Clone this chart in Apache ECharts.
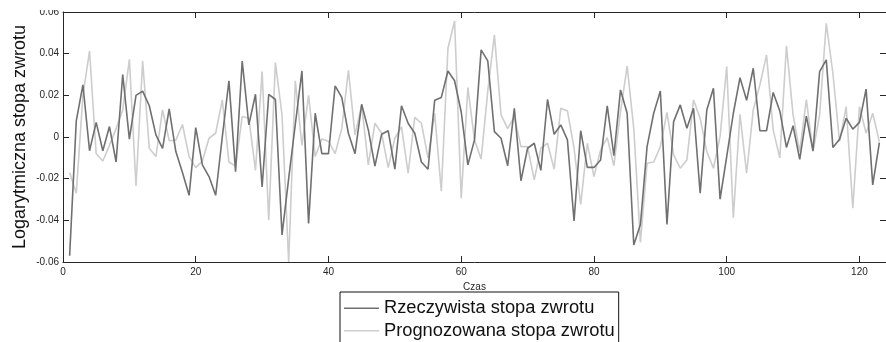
<!DOCTYPE html>
<html>
<head>
<meta charset="utf-8">
<script src="https://cdn.jsdelivr.net/npm/echarts@6/dist/echarts.min.js"></script>
<style>
html,body{margin:0;padding:0;background:#fff;}
#chart{width:886px;height:342px;}
</style>
</head>
<body>
<div id="chart"></div>
<script>
var timeIndex = [];
for (var t = 1; t <= 123; t++) timeIndex.push(t);

var actualReturns = [
  -0.057, 0.0077, 0.025, -0.0066, 0.007, -0.0066, 0.005, -0.012, 0.030, -0.001,
  0.020, 0.022, 0.015, 0.001, -0.0055, 0.0135, -0.007, -0.017, -0.028, 0.0045,
  -0.0134, -0.019, -0.028, 0.0, 0.027, -0.0166, 0.0365, 0.0058, 0.0205, -0.024,
  0.0205, 0.018, -0.047, -0.02, 0.006, 0.0317, -0.0415, 0.0114, -0.008, -0.008,
  0.0245, 0.019, 0.0018, -0.008, 0.0157, 0.0034, -0.014, 0.0013, 0.003, -0.0154,
  0.015, 0.0066, 0.0018, -0.012, -0.0155, 0.0176, 0.019, 0.0317, 0.027, 0.012,
  -0.0134, -0.0014, 0.0418, 0.0365, 0.0026, -0.0006, -0.0138, 0.0138, -0.021, -0.0054,
  -0.003, -0.016, 0.018, 0.0013, 0.0058, -0.0014, -0.0403, 0.003, -0.0146, -0.0146,
  -0.011, 0.015, -0.009, 0.0226, 0.0114, -0.0518, -0.042, -0.0046, 0.0114, 0.0221,
  -0.042, 0.0074, 0.0154, 0.0042, 0.0138, -0.027, 0.013, 0.0234, -0.0298, -0.0094,
  0.0114, 0.0285, 0.0176, 0.033, 0.003, 0.003, 0.0214, 0.0125, -0.005, 0.0054,
  -0.0107, 0.010, -0.0066, 0.0314, 0.037, -0.005, -0.0011, 0.009, 0.0038, 0.007,
  0.023, -0.023, -0.0027
];

var forecastReturns = [
  -0.017, -0.027, 0.02, 0.0413, -0.008, -0.0115, -0.004, 0.004, 0.013, 0.0373,
  -0.0235, 0.0365, -0.0054, -0.0094, 0.013, -0.0018, -0.0015, 0.006, -0.0094, -0.0147,
  -0.0115, -0.0006, 0.0018, 0.0178, -0.012, -0.014, 0.0098, 0.009, -0.016, 0.0314,
  -0.040, 0.0357, 0.0106, -0.060, 0.027, -0.004, 0.020, -0.0094, -0.001, -0.002,
  -0.008, 0.004, 0.032, 0.001, 0.0154, -0.0134, 0.0066, 0.0018, -0.0147, -0.0006,
  0.005, -0.0174, 0.0094, 0.0066, -0.010, 0.0114, -0.026, 0.0426, 0.0557, -0.0294,
  0.0237, -0.0014, -0.0106, 0.022, 0.049, 0.0106, 0.004, 0.0098, -0.0046, -0.0046,
  -0.0206, -0.0054, -0.003, -0.0154, 0.0138, 0.0125, -0.0054, -0.0323, -0.003, -0.019,
  -0.0062, -0.0003, -0.0138, 0.0122, 0.034, 0.004, -0.0506, -0.0126, -0.012, -0.0046,
  0.0118, -0.0086, -0.015, -0.011, 0.0178, 0.009, -0.007, -0.015, 0.0002, 0.0338,
  -0.0387, 0.0109, -0.0174, 0.013, 0.025, 0.0394, 0.0034, -0.010, 0.0438, 0.0106,
  -0.007, 0.018, -0.007, 0.0106, 0.0546, 0.0306, -0.0022, 0.0146, -0.0342, 0.0146,
  0.0018, 0.0114, -0.0022
];

var seriesNames = ['Rzeczywista stopa zwrotu', 'Prognozowana stopa zwrotu'];
var xAxisTitle = 'Czas';
var yAxisTitle = 'Logarytmiczna stopa zwrotu';

function pairs(vals) {
  return timeIndex.map(function (t, i) { return [t, vals[i]]; });
}

var FONT = '"Liberation Sans", Arial, sans-serif';
var AXC = '#262626';

var chart = echarts.init(document.getElementById('chart'), null, {renderer: 'canvas'});
chart.setOption({
  animation: false,
  backgroundColor: '#fff',
  grid: {left: 63, top: 12, right: -2, bottom: 80, containLabel: false},
  legend: {
    orient: 'vertical',
    left: 340,
    top: 292,
    height: 80,
    padding: [7, 4, 4, 4],
    itemWidth: 35,
    itemHeight: 1.5,
    itemGap: 4,
    icon: 'rect',
    borderColor: '#111',
    borderWidth: 1,
    borderRadius: 0,
    backgroundColor: '#fff',
    textStyle: {fontFamily: FONT, fontSize: 18.3, lineHeight: 18.5, color: '#111'},
    data: seriesNames
  },
  xAxis: [{
    type: 'value', position: 'bottom', min: 0, max: 124, interval: 20,
    name: xAxisTitle, nameLocation: 'middle', nameGap: 20, nameMoveOverlap: false,
    nameTextStyle: {fontFamily: FONT, fontSize: 10, color: AXC},
    axisLine: {show: true, onZero: false, lineStyle: {color: AXC, width: 1}},
    axisTick: {show: true, inside: true, length: 6, lineStyle: {color: AXC}},
    axisLabel: {fontFamily: FONT, fontSize: 10, color: AXC, margin: 5, showMaxLabel: false},
    splitLine: {show: false}
  }, {
    type: 'value', position: 'top', min: 0, max: 124, interval: 20,
    axisLine: {show: true, onZero: false, lineStyle: {color: AXC, width: 1}},
    axisTick: {show: true, inside: true, length: 6, lineStyle: {color: AXC}},
    axisLabel: {show: false},
    splitLine: {show: false}
  }],
  yAxis: [{
    type: 'value', position: 'left', min: -0.06, max: 0.06, interval: 0.02,
    name: yAxisTitle, nameLocation: 'middle', nameGap: 34, nameMoveOverlap: false,
    nameTextStyle: {fontFamily: FONT, fontSize: 18, color: '#111'},
    axisLine: {show: true, onZero: false, lineStyle: {color: AXC, width: 1}},
    axisTick: {show: true, inside: true, length: 6, lineStyle: {color: AXC}},
    axisLabel: {
      fontFamily: FONT, fontSize: 10, color: AXC, margin: 4,
      formatter: function (v) { return Math.abs(v) < 1e-9 ? '0' : v.toFixed(2); }
    },
    splitLine: {show: false}
  }, {
    type: 'value', position: 'right', min: -0.06, max: 0.06, interval: 0.02,
    axisLine: {show: true, onZero: false, lineStyle: {color: AXC, width: 1}},
    axisTick: {show: true, inside: true, length: 6, lineStyle: {color: AXC}},
    axisLabel: {show: false},
    splitLine: {show: false}
  }],
  series: [{
    name: seriesNames[0], type: 'line', xAxisIndex: 0, yAxisIndex: 0,
    data: pairs(actualReturns), symbol: 'none', showSymbol: false,
    lineStyle: {color: '#707070', width: 1.6},
    itemStyle: {color: '#707070'}, z: 3
  }, {
    name: seriesNames[1], type: 'line', xAxisIndex: 0, yAxisIndex: 0,
    data: pairs(forecastReturns), symbol: 'none', showSymbol: false,
    lineStyle: {color: '#cdcdcd', width: 1.6},
    itemStyle: {color: '#cdcdcd'}, z: 2
  }],
  graphic: [{
    type: 'rect', z: 100, silent: true,
    shape: {x: 0, y: 0, width: 886, height: 10},
    style: {fill: '#fff'}
  }]
});
</script>
</body>
</html>
